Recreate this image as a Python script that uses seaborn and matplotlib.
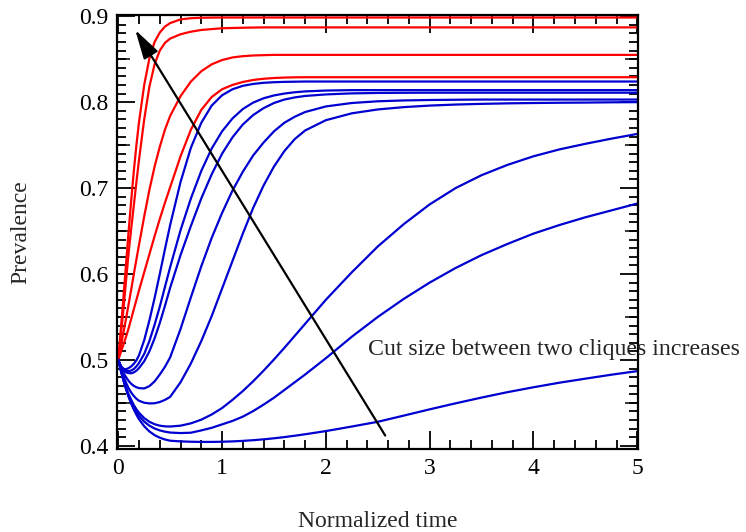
import matplotlib
matplotlib.use("Agg")
import numpy as np
import pandas as pd
import matplotlib.pyplot as plt
import seaborn as sns
from matplotlib.ticker import MultipleLocator

# ---------------- data ----------------
time = [0, 0.025, 0.05, 0.075, 0.1, 0.125, 0.15, 0.175, 0.2, 0.25, 0.3, 0.35, 0.4, 0.45, 0.5,
        0.6, 0.7, 0.8, 0.9, 1.0, 1.1, 1.2, 1.3, 1.4, 1.5, 1.6, 1.7, 1.8, 2.0, 2.25, 2.5,
        2.75, 3.0, 3.25, 3.5, 3.75, 4.0, 4.25, 4.5, 4.75, 5.0]

red_a = [0.5, 0.536, 0.573, 0.612, 0.65, 0.686, 0.72, 0.75, 0.777, 0.82, 0.851, 0.87, 0.881, 0.888, 0.892,
         0.8963, 0.8977, 0.8982, 0.8984, 0.8985, 0.8985, 0.8985, 0.8985, 0.8985, 0.8985, 0.8985, 0.8985,
         0.8985, 0.8985, 0.8985, 0.8985,
         0.8985, 0.8985, 0.8985, 0.8985, 0.8985, 0.8985, 0.8985, 0.8985, 0.8985, 0.8985]
red_b = [0.5, 0.529, 0.559, 0.592, 0.625, 0.653, 0.68, 0.707, 0.733, 0.78, 0.818, 0.844, 0.86, 0.869, 0.874,
         0.879, 0.882, 0.884, 0.885, 0.886, 0.8863, 0.8866, 0.8868, 0.887, 0.887, 0.887, 0.887,
         0.887, 0.887, 0.887, 0.887,
         0.887, 0.887, 0.887, 0.887, 0.887, 0.887, 0.887, 0.887, 0.887, 0.887]
red_c = [0.5, 0.516, 0.532, 0.548, 0.565, 0.582, 0.6, 0.617, 0.634, 0.667, 0.698, 0.725, 0.748, 0.768, 0.784,
         0.807, 0.824, 0.836, 0.844, 0.849, 0.852, 0.8535, 0.8543, 0.8547, 0.855, 0.855, 0.855,
         0.855, 0.855, 0.855, 0.855,
         0.855, 0.855, 0.855, 0.855, 0.855, 0.855, 0.855, 0.855, 0.855, 0.855]
red_d = [0.5, 0.509, 0.518, 0.527, 0.537, 0.548, 0.559, 0.57, 0.581, 0.602, 0.623, 0.644, 0.664, 0.683, 0.701,
         0.737, 0.768, 0.791, 0.806, 0.815, 0.82, 0.8235, 0.8258, 0.8272, 0.8281, 0.8286, 0.8289,
         0.829, 0.829, 0.829, 0.829,
         0.829, 0.829, 0.829, 0.829, 0.829, 0.829, 0.829, 0.829, 0.829, 0.829]
blue_a = [0.5, 0.493, 0.4897, 0.4892, 0.4905, 0.4925, 0.4955, 0.4995, 0.5055, 0.523, 0.546, 0.572, 0.6, 0.629, 0.657,
          0.707, 0.747, 0.776, 0.796, 0.808, 0.815, 0.819, 0.8212, 0.8225, 0.8232, 0.8236, 0.8238,
          0.824, 0.824, 0.824, 0.824,
          0.824, 0.824, 0.824, 0.824, 0.824, 0.824, 0.824, 0.824, 0.824, 0.824]
blue_b = [0.5, 0.4925, 0.489, 0.4873, 0.487, 0.4877, 0.4895, 0.4925, 0.4965, 0.507, 0.522, 0.541, 0.562, 0.585, 0.608,
          0.651, 0.688, 0.72, 0.746, 0.766, 0.781, 0.792, 0.7995, 0.8045, 0.8078, 0.81, 0.8115,
          0.8125, 0.8135, 0.814, 0.814,
          0.814, 0.814, 0.814, 0.814, 0.814, 0.814, 0.814, 0.814, 0.814, 0.814]
blue_c = [0.5, 0.4925, 0.488, 0.4855, 0.4846, 0.4845, 0.4855, 0.4875, 0.4905, 0.4985, 0.51, 0.525, 0.543, 0.563, 0.584,
          0.622, 0.656, 0.688, 0.716, 0.74, 0.759, 0.774, 0.785, 0.793, 0.799, 0.803, 0.8055,
          0.8072, 0.809, 0.8102, 0.8107,
          0.8109, 0.811, 0.811, 0.811, 0.811, 0.811, 0.811, 0.811, 0.811, 0.811]
blue_d = [0.5, 0.492, 0.485, 0.48, 0.4755, 0.4722, 0.4698, 0.4682, 0.4672, 0.4668, 0.4695, 0.475, 0.483, 0.492, 0.503,
          0.536, 0.573, 0.609, 0.642, 0.671, 0.697, 0.719, 0.738, 0.753, 0.766, 0.776, 0.783,
          0.7885, 0.795, 0.799, 0.801,
          0.802, 0.8025, 0.8028, 0.803, 0.803, 0.803, 0.803, 0.803, 0.803, 0.803]
blue_e = [0.5, 0.49, 0.481, 0.4735, 0.467, 0.462, 0.458, 0.4548, 0.4525, 0.4502, 0.4494, 0.4496, 0.451, 0.4535, 0.457,
          0.474, 0.496, 0.522, 0.551, 0.583, 0.615, 0.647, 0.677, 0.703, 0.725, 0.743, 0.757,
          0.767, 0.779, 0.787, 0.7915,
          0.7942, 0.796, 0.7972, 0.798, 0.7986, 0.799, 0.7993, 0.7995, 0.7998, 0.8]
blue_f = [0.5, 0.488, 0.477, 0.468, 0.46, 0.4535, 0.4475, 0.4425, 0.4385, 0.4323, 0.428, 0.4252, 0.4235, 0.4227, 0.4225,
          0.4235, 0.4262, 0.4305, 0.4365, 0.444, 0.4535, 0.4638, 0.4752, 0.4875, 0.5005, 0.514, 0.528,
          0.542, 0.57, 0.602, 0.632,
          0.658, 0.681, 0.7, 0.715, 0.727, 0.737, 0.745, 0.7515, 0.7575, 0.763]
blue_g = [0.5, 0.4875, 0.4765, 0.4665, 0.4578, 0.4505, 0.4443, 0.4392, 0.4348, 0.4282, 0.4235, 0.4202, 0.418, 0.4165, 0.4155,
          0.4149, 0.4153, 0.418, 0.421, 0.425, 0.429, 0.434, 0.4405, 0.448, 0.456, 0.465, 0.474,
          0.483, 0.502, 0.527, 0.55,
          0.571, 0.59, 0.607, 0.622, 0.635, 0.647, 0.657, 0.666, 0.674, 0.682]
blue_h = [0.5, 0.4875, 0.4762, 0.4658, 0.4568, 0.449, 0.4422, 0.4362, 0.431, 0.4228, 0.4168, 0.4125, 0.4095, 0.4074, 0.406,
          0.4052, 0.4048, 0.4046, 0.4046, 0.4048, 0.4052, 0.4058, 0.4066, 0.4076, 0.4088, 0.4102, 0.4118,
          0.4135, 0.4172, 0.4225, 0.428,
          0.4352, 0.4425, 0.4495, 0.4562, 0.4625, 0.4682, 0.4735, 0.4782, 0.4828, 0.487]

curves = {
    "red_a": red_a, "red_b": red_b, "red_c": red_c, "red_d": red_d,
    "blue_a": blue_a, "blue_b": blue_b, "blue_c": blue_c, "blue_d": blue_d,
    "blue_e": blue_e, "blue_f": blue_f, "blue_g": blue_g, "blue_h": blue_h,
}

x_ticks = [0, 1, 2, 3, 4, 5]
y_ticks = [0.4, 0.5, 0.6, 0.7, 0.8, 0.9]
y_mid_ticks = [0.45, 0.55, 0.65, 0.75, 0.85]

annotation_text = "Cut size between two cliques increases"

# ---------------- build frame ----------------
rows = []
for name, vals in curves.items():
    for t, v in zip(time, vals):
        rows.append((name, t, v))
df = pd.DataFrame(rows, columns=["curve", "t", "v"])

RED = "#ff0000"
BLUE = "#0000d0"
palette = {k: (RED if k.startswith("red") else BLUE) for k in curves}

sns.set_style("ticks")
plt.rcParams["font.family"] = ["Liberation Serif", "DejaVu Serif"]

fig = plt.figure(figsize=(7.46, 5.32), dpi=100)
ax = fig.add_axes([116.7 / 746, (532 - 449.3) / 532, (638.3 - 116.7) / 746, (449.3 - 14.5) / 532])

sns.lineplot(data=df, x="t", y="v", hue="curve", palette=palette, estimator=None,
             sort=False, legend=False, linewidth=1.6, ax=ax)

ax.set_xlim(-0.015, 5.01)
ax.set_ylim(0.396, 0.902)
ax.set_xticks(x_ticks)
ax.set_yticks(y_ticks)
ax.set_xticklabels([str(v) for v in x_ticks])
ax.set_yticklabels([f"{v:.1f}" for v in y_ticks])
ax.xaxis.set_minor_locator(MultipleLocator(0.2))
ax.yaxis.set_minor_locator(MultipleLocator(0.01))

ax.tick_params(which="both", direction="in", top=True, right=True, width=1.3, colors="black")
ax.tick_params(which="major", length=13, labelsize=17, pad=6)
ax.tick_params(which="minor", length=6.5)

for side in ["left", "right"]:
    sec = ax.secondary_yaxis(side)
    sec.set_yticks(y_mid_ticks)
    sec.tick_params(direction="in", length=9.5, width=1.3,
                    labelleft=False, labelright=False)
    for sp in sec.spines.values():
        sp.set_visible(False)

for sp in ax.spines.values():
    sp.set_linewidth(1.6)
    sp.set_color("black")

ax.set_xlabel("Normalized time", fontsize=17, labelpad=23)
ax.set_ylabel("Prevalence", fontsize=17, labelpad=34)

ax.annotate("", xy=(0.164, 0.884), xytext=(2.572, 0.412),
            arrowprops=dict(arrowstyle="-|>,head_length=0.9,head_width=0.25",
                            mutation_scale=20, lw=1.6, color="black",
                            shrinkA=0, shrinkB=0))
ax.text(2.408, 0.5116, annotation_text, fontsize=17.2, ha="left", va="center",
        clip_on=False)

fig.savefig("out.png", dpi=100)
